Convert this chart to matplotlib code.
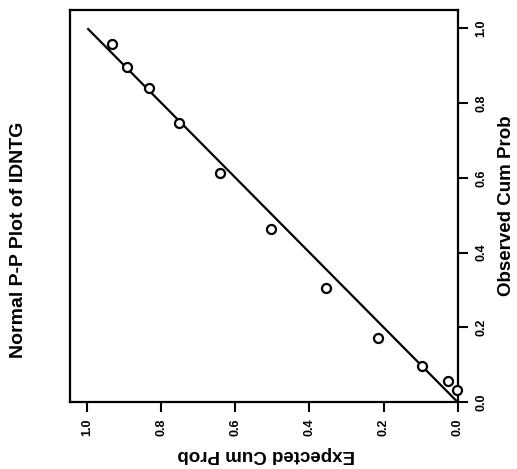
import matplotlib
matplotlib.use("Agg")
import matplotlib.pyplot as plt

# Normal P-P plot of IDNTG (scanned page is turned 90 degrees, so drawn that way)
expected = [0.934, 0.892, 0.833, 0.752, 0.642, 0.504, 0.356, 0.214, 0.097, 0.027, 0.001]
observed = [0.957, 0.897, 0.839, 0.746, 0.612, 0.462, 0.304, 0.170, 0.096, 0.056, 0.031]
ref_line = [0.0, 1.0]
tick_vals = [0.0, 0.2, 0.4, 0.6, 0.8, 1.0]
tick_labels = ["0.0", "0.2", "0.4", "0.6", "0.8", "1.0"]

plt.rcParams['font.family'] = ['Liberation Sans', 'DejaVu Sans']
plt.rcParams['font.weight'] = 'bold'

fig = plt.figure(figsize=(5.17, 4.69), dpi=100)
ax = fig.add_axes([0.1354, 0.1429, 0.7496, 0.8358])

ax.plot(ref_line, ref_line, color='black', lw=1.6, solid_capstyle='butt')
ax.plot(expected, observed, 'o', mfc='white', mec='black', ms=6.5, mew=1.6,
        clip_on=False, zorder=3)

ax.set_xlim(1.047, 0.0)
ax.set_ylim(0.0, 1.049)

ax.set_xticks(tick_vals)
ax.set_xticklabels(tick_labels, rotation=90, fontsize=9, fontweight='bold')
ax.yaxis.tick_right()
ax.set_yticks(tick_vals)
ax.set_yticklabels(tick_labels, rotation=90, fontsize=9, fontweight='bold',
                   va='center')
ax.tick_params(axis='x', length=7, width=1.5, pad=5, direction='out')
ax.tick_params(axis='y', length=7, width=1.5, pad=6, direction='out')

for s in ax.spines.values():
    s.set_linewidth(1.6)

fig.text(0.035, 0.488, "Normal P-P Plot of IDNTG", rotation=90,
         ha='center', va='center', fontsize=14, fontweight='bold')
fig.text(0.997, 0.561, "Observed Cum Prob", rotation=90,
         ha='right', va='center', fontsize=13.5, fontweight='bold')
fig.text(0.514, 0.031, "Expected Cum Prob", rotation=180,
         ha='center', va='center', fontsize=13.5, fontweight='bold')

fig.savefig("out.png", dpi=100)
